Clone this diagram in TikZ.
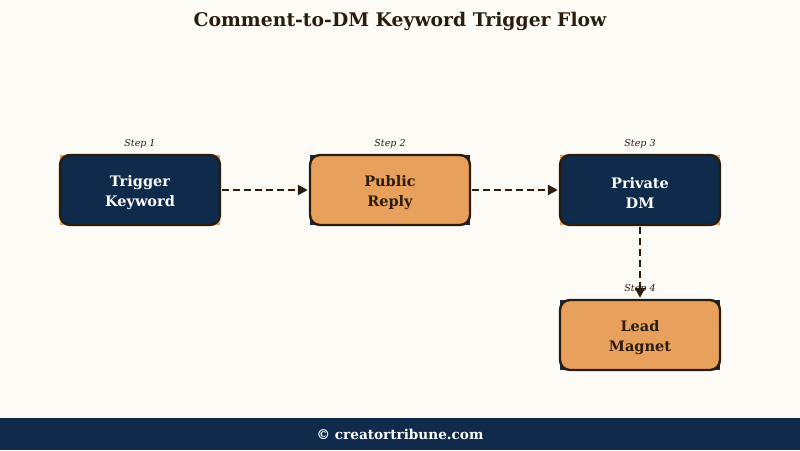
\documentclass[tikz,border=0pt]{standalone}
\usepackage{fontspec}
\setmainfont{DejaVu Serif}
\usetikzlibrary{arrows.meta}
\definecolor{bgc}{HTML}{FDFBF6}
\definecolor{navy}{HTML}{0F2A4A}
\definecolor{orng}{HTML}{E8A15C}
\definecolor{brn}{HTML}{2B1D0E}
\tikzset{
  navybox/.style={draw=brn, line width=2.4pt, fill=navy, rounded corners=10pt, minimum width=160pt, minimum height=70pt, inner sep=0pt},
  orngbox/.style={navybox, fill=orng},
  wtxt/.style={text=white, font=\bfseries\fontsize{14.5}{20}\selectfont, align=center, inner sep=0pt},
  btxt/.style={wtxt, text=brn},
  steplbl/.style={font=\itshape\fontsize{9.5}{10}\selectfont, text=brn},
  flow/.style={draw=brn, line width=2.4pt, dash pattern=on 7pt off 4pt, -{Triangle[length=10pt,width=10pt]}, shorten >=1pt, shorten <=1pt},
}
\begin{document}
\begin{tikzpicture}[x=1pt,y=-1pt]
\fill[bgc] (0,0) rectangle (800,450);
\useasboundingbox (0,0) rectangle (800,450);
\fill[navy] (0,418) rectangle (800,450);
\node[font=\bfseries\fontsize{18.8}{22}\selectfont, text=brn] (title) at (400,21) {Comment-to-DM Keyword Trigger Flow};
\node[font=\bfseries\fontsize{13.6}{16}\selectfont, text=white] (foot) at (400,434) {© creatortribune.com};
% corner backgrounds
\fill[orng] (60,155) rectangle (220,225);
\fill[navy] (310,155) rectangle (470,225);
\fill[orng] (560,155) rectangle (720,225);
\fill[navy] (560,300) rectangle (720,370);
\node[navybox] (s1) at (140,190) {};
\node[orngbox] (s2) at (390,190) {};
\node[navybox] (s3) at (640,190) {};
\node[orngbox] (s4) at (640,335) {};
\node[wtxt] (t1) at (140,192.5) {Trigger\\Keyword};
\node[btxt] (t2) at (390,192.5) {Public\\Reply};
\node[wtxt] (t3) at (640,192.5) {Private\\DM};
\node[btxt] (t4) at (640,337.5) {Lead\\Magnet};
\node[steplbl] (l1) at (140,144) {Step 1};
\node[steplbl] (l2) at (390,144) {Step 2};
\node[steplbl] (l3) at (640,144) {Step 3};
\node[steplbl] (l4) at (640,289) {Step 4};
\draw[flow] (s1) -- (s2);
\draw[flow] (s2) -- (s3);
\draw[flow] (s3) -- (s4);
\end{tikzpicture}
\end{document}
